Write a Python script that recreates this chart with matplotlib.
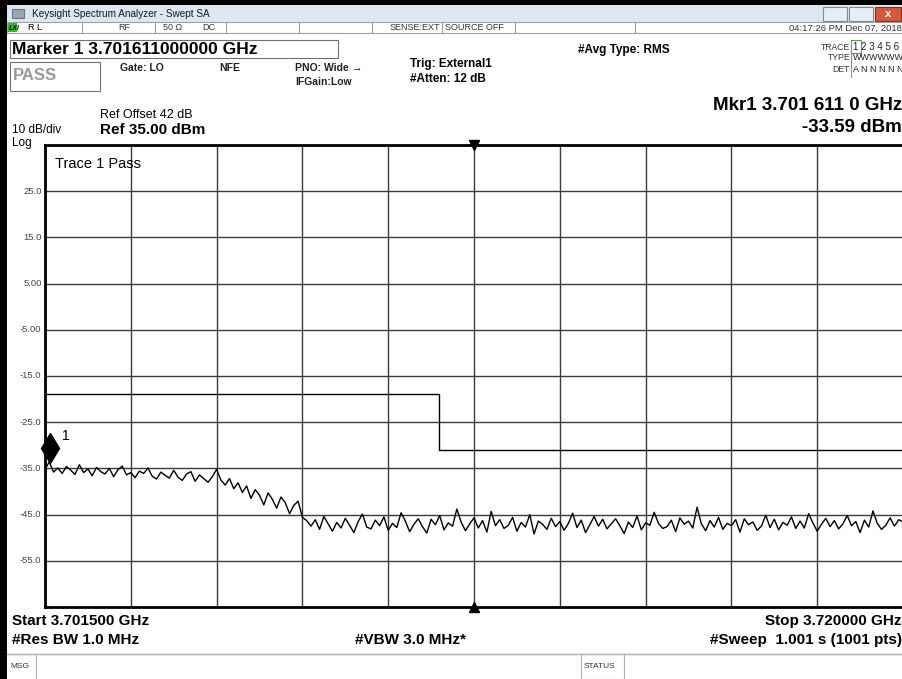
#!/usr/bin/env python3
# coding: UTF-8

import matplotlib.pyplot as plt
from matplotlib.patches import Rectangle
import numpy as np

plt.rcParams['font.family'] = ['Liberation Sans', 'DejaVu Sans']

W, H = 903, 679

# Sweep settings (GHz / dBm)
start_ghz = 3.7015
stop_ghz = 3.7200
ref_level = 35.0
db_per_div = 10.0

trace_dbm = [
    -35.2, -33.6, -35.8, -34.9, -36.1, -34.6, -35.4, -36.3, -34.2, -35.9,
    -35.1, -36.6, -34.8, -35.7, -36.2, -35.0, -36.8, -35.3, -34.5, -36.4,
    -35.9, -37.0, -35.6, -36.1, -34.9, -36.7, -37.3, -35.8, -36.5, -37.1,
    -35.4, -36.9, -37.6, -36.2, -35.7, -37.8, -36.4, -37.2, -38.0, -36.8,
    -35.2,
    -37.5, -38.6, -37.2, -39.4, -38.1, -40.2, -38.8, -41.5, -39.6, -40.8,
    -42.9, -40.3, -41.7, -43.6, -41.2, -42.4, -44.8, -43.0, -42.1, -45.6,
    -46.3, -47.5, -46.1, -48.2, -45.4, -47.0, -48.6, -46.7, -47.9, -45.8,
    -47.3, -48.9, -46.5, -44.9, -47.7, -48.1, -46.2, -47.4, -45.5, -48.4,
    -46.9, -47.8, -44.6, -46.4, -48.7, -47.1, -45.9, -47.6, -49.0, -46.0,
    -47.2, -45.2, -48.3, -46.8, -47.5, -43.8, -46.6, -48.5, -47.0, -45.7,
    -47.9, -46.3, -48.8, -44.3, -47.4, -46.1, -48.0, -47.3, -45.6, -48.6,
    -46.7, -47.7, -45.0, -49.2, -46.4, -47.1, -48.2, -45.8, -47.6, -46.5,
    -48.4, -46.9, -44.7, -47.8, -46.2, -48.9, -47.2, -45.4, -47.5, -46.0,
    -48.1, -47.0, -45.9, -47.4, -49.1, -46.6, -47.8, -45.3, -48.3, -46.8,
    -47.3, -44.5, -46.9, -48.0, -47.6, -46.2, -48.7, -45.7, -47.1, -46.4,
    -47.9, -43.4, -47.0, -48.5, -46.3, -47.7, -45.6, -48.2, -46.9, -47.4,
    -46.1, -48.8, -45.9, -47.2, -46.6, -48.4, -47.5, -45.1, -47.8, -46.0,
    -48.3, -46.7, -47.3, -45.5, -48.0, -46.4, -47.9, -44.8, -46.8, -48.6,
    -47.1, -45.8, -47.6, -46.3, -48.1, -47.0, -45.2, -47.4, -46.5, -48.9,
    -46.2, -47.7, -44.2, -46.9, -48.2, -47.3, -45.7, -47.5, -46.1, -46.6,
]

# Limit line
limit_freq = [3.7015, 3.7100, 3.7100, 3.7200]
limit_dbm = [-19.0, -19.0, -31.0, -31.0]

# Marker 1
mkr_freq = 3.701611
mkr_dbm = -33.59

y_ticks = [25.0, 15.0, 5.0, -5.0, -15.0, -25.0, -35.0, -45.0, -55.0]
y_tick_labels = ["25.0", "15.0", "5.00", "-5.00", "-15.0", "-25.0", "-35.0", "-45.0", "-55.0"]


def fx(x):
    return x / W


def fy(y):
    return 1 - y / H


def txt(fig, x, y, s, **kw):
    kw.setdefault('va', 'center')
    fig.text(fx(x), fy(y), s, **kw)


def box(fig, x, y, w, h, fc='none', ec='#808080', lw=0.8):
    fig.patches.append(Rectangle((fx(x), fy(y + h)), w / W, h / H, transform=fig.transFigure,
                                 fc=fc, ec=ec, lw=lw, zorder=0))


def vline(fig, x, y0, y1, color='#a0a0a0'):
    fig.lines.append(plt.Line2D([fx(x), fx(x)], [fy(y0), fy(y1)], transform=fig.transFigure,
                                color=color, lw=0.8))


def graph():
    fig = plt.figure(figsize=(W / 100, H / 100), dpi=100)
    fig.patch.set_facecolor('white')

    # window frame + title bar
    box(fig, 0, 0, W, 5, fc='black', ec='none')
    box(fig, 0, 5, W, 17, fc='#dce7f3', ec='none')
    box(fig, 0, 0, 7, H, fc='black', ec='none')
    box(fig, 12, 9, 12, 9, fc='#9aa6b4', ec='#6a7684')
    txt(fig, 32, 14, "Keysight Spectrum Analyzer - Swept SA", fontsize=7.2, color='#1a1a1a')
    box(fig, 823, 7, 24, 14, fc='#e8eef6', ec='#7d8a99')
    box(fig, 849, 7, 24, 14, fc='#e8eef6', ec='#7d8a99')
    box(fig, 875, 7, 26, 14, fc='#d9573b', ec='#8a2a17')
    txt(fig, 888, 14, "x", fontsize=8, color='white', ha='center', weight='bold')

    # status row
    box(fig, 7, 22, 896, 11, fc='white', ec='#a0a0a0')
    box(fig, 8, 23, 9, 9, fc='#22c322', ec='none')
    txt(fig, 9, 28, "LXI", fontsize=5, style='italic', weight='bold')
    for cx in [82, 155, 226, 299, 372, 442, 515, 635]:
        vline(fig, cx, 22, 33)
    txt(fig, 28, 28, "R L", fontsize=6.5)
    txt(fig, 118, 28, "RF", fontsize=6.5, color='#333')
    txt(fig, 163, 28, "50 Ω", fontsize=6.5, color='#333')
    txt(fig, 202, 28, "DC", fontsize=6.5, color='#333')
    txt(fig, 440, 28, "SENSE:EXT", fontsize=6.5, color='#333', ha='right')
    txt(fig, 445, 28, "SOURCE OFF", fontsize=6.5, color='#333')
    txt(fig, 902, 28, "04:17:26 PM Dec 07, 2018", fontsize=6.8, ha='right', color='#333')

    # marker readout + settings
    box(fig, 10, 40, 328, 18, ec='#707070')
    txt(fig, 12, 49, "Marker 1 3.701611000000 GHz", fontsize=12.5, weight='bold')
    box(fig, 10, 62, 90, 29, ec='#707070')
    txt(fig, 13, 76, "PASS", fontsize=12, weight='bold', color='#9a9a9a')
    txt(fig, 120, 68, "Gate: LO", fontsize=7.5, weight='bold', color='#222')
    txt(fig, 219, 68, "NFE", fontsize=7.5, weight='bold', color='#222')
    txt(fig, 295, 68, "PNO: Wide", fontsize=7.5, weight='bold', color='#222')
    txt(fig, 295, 82, "IFGain:Low", fontsize=7.5, weight='bold', color='#222')
    txt(fig, 357, 68, "→", fontsize=7.5, ha='center')
    txt(fig, 410, 64, "Trig: External1", fontsize=8.5, weight='bold')
    txt(fig, 410, 79, "#Atten: 12 dB", fontsize=8.5, weight='bold')
    txt(fig, 578, 50, "#Avg Type: RMS", fontsize=8.5, weight='bold')
    txt(fig, 850, 47, "TRACE", fontsize=6.2, ha='right', color='#333')
    txt(fig, 850, 58, "TYPE", fontsize=6.2, ha='right', color='#333')
    txt(fig, 850, 70, "DET", fontsize=6.2, ha='right', color='#333')
    box(fig, 851, 40, 10, 13, ec='#44aa44')
    txt(fig, 853, 47, "1 2 3 4 5 6", fontsize=7, color='#222')
    txt(fig, 853, 58, "WWWWWW", fontsize=6.5, color='#222')
    txt(fig, 853, 70, "A N N N N N", fontsize=6.5, color='#222')
    vline(fig, 851, 40, 77, color='#909090')

    txt(fig, 902, 105, "Mkr1 3.701 611 0 GHz", fontsize=13.5, weight='bold', ha='right')
    txt(fig, 902, 127, "-33.59 dBm", fontsize=13.5, weight='bold', ha='right')
    txt(fig, 100, 115, "Ref Offset 42 dB", fontsize=9)
    txt(fig, 100, 130, "Ref 35.00 dBm", fontsize=11, weight='bold')
    txt(fig, 12, 130, "10 dB/div", fontsize=8.5)
    txt(fig, 12, 143, "Log", fontsize=8.5)

    # plot area
    ax = fig.add_axes([fx(45), fy(607), 858 / W, 462 / H])
    x_freq = np.linspace(start_ghz, stop_ghz, len(trace_dbm))
    ax.set_xlim(start_ghz, stop_ghz)
    ax.set_ylim(ref_level - 10 * db_per_div, ref_level)
    ax.set_xticks(np.linspace(start_ghz, stop_ghz, 11))
    ax.set_yticks(np.arange(ref_level - 10 * db_per_div, ref_level + 1, db_per_div))
    ax.tick_params(length=0, labelbottom=False, labelleft=False)
    ax.grid(True, color='#3a3a3a', lw=1.0)
    for side in ['left', 'top', 'bottom']:
        ax.spines[side].set_linewidth(2.0)
    ax.spines['right'].set_visible(False)

    for yv, lab in zip(y_ticks, y_tick_labels):
        ax.text(-0.004, (yv - ax.get_ylim()[0]) / (10 * db_per_div), lab, transform=ax.transAxes,
                ha='right', va='center', fontsize=6.8, color='#444')

    ax.plot(limit_freq, limit_dbm, color='black', lw=1.0)
    ax.plot(x_freq, trace_dbm, color='black', lw=1.0)

    ax.plot([mkr_freq], [mkr_dbm + 3.0], marker='d', ms=15, color='black', clip_on=False)
    ax.text(mkr_freq + 0.00025, mkr_dbm + 5.5, "1", fontsize=10, va='center')

    center = (start_ghz + stop_ghz) / 2
    ax.plot([center], [ref_level], marker='v', ms=7, color='black', clip_on=False)
    ax.plot([center], [ref_level - 10 * db_per_div], marker='^', ms=7, color='black', clip_on=False)
    ax.text(0.012, 0.975, "Trace 1 Pass", transform=ax.transAxes, fontsize=10.5, va='top')

    # bottom annotations
    txt(fig, 12, 621, "Start 3.701500 GHz", fontsize=11, weight='bold')
    txt(fig, 12, 640, "#Res BW 1.0 MHz", fontsize=11, weight='bold')
    txt(fig, 355, 640, "#VBW 3.0 MHz*", fontsize=11, weight='bold')
    txt(fig, 902, 621, "Stop 3.720000 GHz", fontsize=11, weight='bold', ha='right')
    txt(fig, 902, 640, "#Sweep  1.001 s (1001 pts)", fontsize=11, weight='bold', ha='right')

    fig.lines.append(plt.Line2D([fx(7), fx(903)], [fy(654), fy(654)], transform=fig.transFigure,
                                color='#b0b0b0', lw=1.0))
    vline(fig, 36, 654, 679, color='#b0b0b0')
    txt(fig, 10, 666, "MSG", fontsize=6, color='#333')
    box(fig, 581, 654, 43, 25, ec='#b0b0b0')
    txt(fig, 584, 666, "STATUS", fontsize=6, color='#333')

    plt.savefig('out.png', dpi=100)


def main():
    graph()


if __name__ == '__main__':
    main()
